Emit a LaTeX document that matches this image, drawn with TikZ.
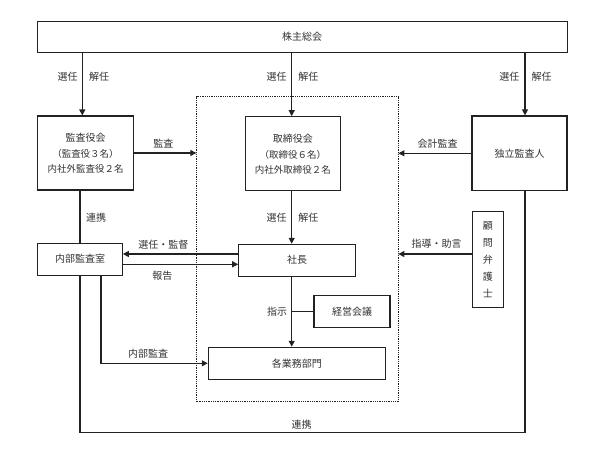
\documentclass[tikz,border=0pt]{standalone}
\usepackage{fontspec}
\setmainfont{Noto Sans CJK JP}
\usetikzlibrary{arrows.meta}
\definecolor{ink}{HTML}{222222}
\definecolor{txt}{HTML}{333333}
\tikzset{
  box/.style={draw=ink, line width=1.1pt, rectangle, inner sep=0pt, text=txt, font=\fontsize{10}{12}\selectfont, align=center},
  lab/.style={text=txt, font=\fontsize{10}{12}\selectfont, inner sep=0pt},
  conn/.style={draw=ink, line width=1.1pt},
  arr/.style={conn, -{Triangle[length=6pt,width=6pt]}},
  frame/.style={draw=ink, line width=0.8pt, densely dotted, rectangle, inner sep=0pt}
}
\begin{document}
\begin{tikzpicture}[x=1pt,y=-1pt]
\useasboundingbox (0,0) rectangle (600,450);
\fill[white] (0,0) rectangle (600,450);

\node[frame, minimum width=201.3pt, minimum height=305pt] (fr) at (297.35,249.2) {};

\node[box, minimum width=529.7pt, minimum height=31.7pt] (soukai) at (302.2,36.9) {株主総会};
\node[box, minimum width=95.6pt, minimum height=74pt] (kansa) at (85.5,153) {監査役会\\[4pt]{\fontsize{9.5}{11}\selectfont （監査役３名）}\\[3pt]{\fontsize{9.5}{11}\selectfont 内社外監査役２名}};
\node[box, minimum width=94.3pt, minimum height=74pt] (tori) at (292.9,153.7) {取締役会\\[4pt]{\fontsize{9.5}{11}\selectfont （取締役６名）}\\[3pt]{\fontsize{9.5}{11}\selectfont 内社外取締役２名}};
\node[box, minimum width=95pt, minimum height=74.7pt] (dok) at (519.5,153.3) {独立監査人};
\node[box, minimum width=84.6pt, minimum height=31.7pt] (naibu) at (80,259.2) {内部監査室};
\node[box, minimum width=117pt, minimum height=31.7pt] (shacho) at (297.2,260.2) {社長};
\node[box, minimum width=31.7pt, minimum height=95.6pt] (komon) at (487.9,259.5) {顧\\[5pt]問\\[5pt]弁\\[5pt]護\\[5pt]士};
\node[box, minimum width=76pt, minimum height=32.4pt] (keiei) at (352,311.5) {経営会議};
\node[box, minimum width=177pt, minimum height=32pt] (gyomu) at (296.8,363.3) {各業務部門};

% top arrows
\draw[arr] ([xshift=-3.2pt]kansa.north |- soukai.south) -- ([xshift=-3.2pt]kansa.north);
\draw[arr] ([xshift=-1.2pt]tori.north |- soukai.south) -- ([xshift=-1.2pt]tori.north);
\draw[arr] ([xshift=5.5pt]dok.north |- soukai.south) -- ([xshift=5.5pt]dok.north);
\node[lab] (l1) at (67.7,76.5) {選任};
\node[lab] (l2) at (99,76.5) {解任};
\node[lab] (l3) at (276.7,76.5) {選任};
\node[lab] (l4) at (308.3,76.5) {解任};
\node[lab] (l5) at (509.3,76.5) {選任};
\node[lab] (l6) at (541.7,76.5) {解任};

% audit arrows to frame
\draw[arr] (kansa.east) -- (kansa.east -| fr.west);
\node[lab] (l7) at (163.3,143.3) {監査};
\draw[arr] (dok.west) -- (dok.west -| fr.east);
\node[lab] (l8) at (437.7,143.3) {会計監査};

% board -> president
\draw[arr] ([xshift=-1.2pt]tori.south) -- ([xshift=-1.2pt]tori.south |- shacho.north);
\node[lab] (l9) at (276.7,217.3) {選任};
\node[lab] (l10) at (308.3,217.3) {解任};

% kansa - naibu
\draw[conn] (naibu.north |- kansa.south) -- (naibu.north);
\node[lab] (l11) at (96,217.3) {連携};

% naibu <-> shacho
\draw[arr] ([yshift=6.2pt]shacho.west) -- ([yshift=6.2pt]shacho.west -| naibu.east);
\node[lab] (l12) at (163.3,244.3) {選任・監督};
\draw[arr] ([yshift=-5.1pt]naibu.east) -- ([yshift=-5.1pt]naibu.east -| shacho.west);
\node[lab] (l13) at (162.3,275.7) {報告};

% komon
\draw[arr] ([yshift=5.5pt]komon.west) -- ([yshift=5.5pt]komon.west -| fr.east);
\node[lab] (l14) at (436.7,243.3) {指導・助言};

% shacho -> gyomu
\draw[arr] ([xshift=-1.2pt]tori.south |- shacho.south) -- ([xshift=-1.2pt]tori.south |- gyomu.north);
\draw[conn] (keiei.west) -- ([xshift=-1.2pt]keiei.west -| tori.south);
\node[lab] (l15) at (277,311.7) {指示};

% internal audit
\draw[arr] ([xshift=21pt]naibu.south) |- (gyomu.west);
\node[lab] (l16) at (148,353.3) {内部監査};

% big cooperation line
\coordinate (bl) at (80,432.3);
\draw[conn] (naibu.south) -- (bl) -| ([xshift=5.5pt]dok.south);
\node[lab] (l17) at (301.7,424.3) {連携};
\end{tikzpicture}
\end{document}
